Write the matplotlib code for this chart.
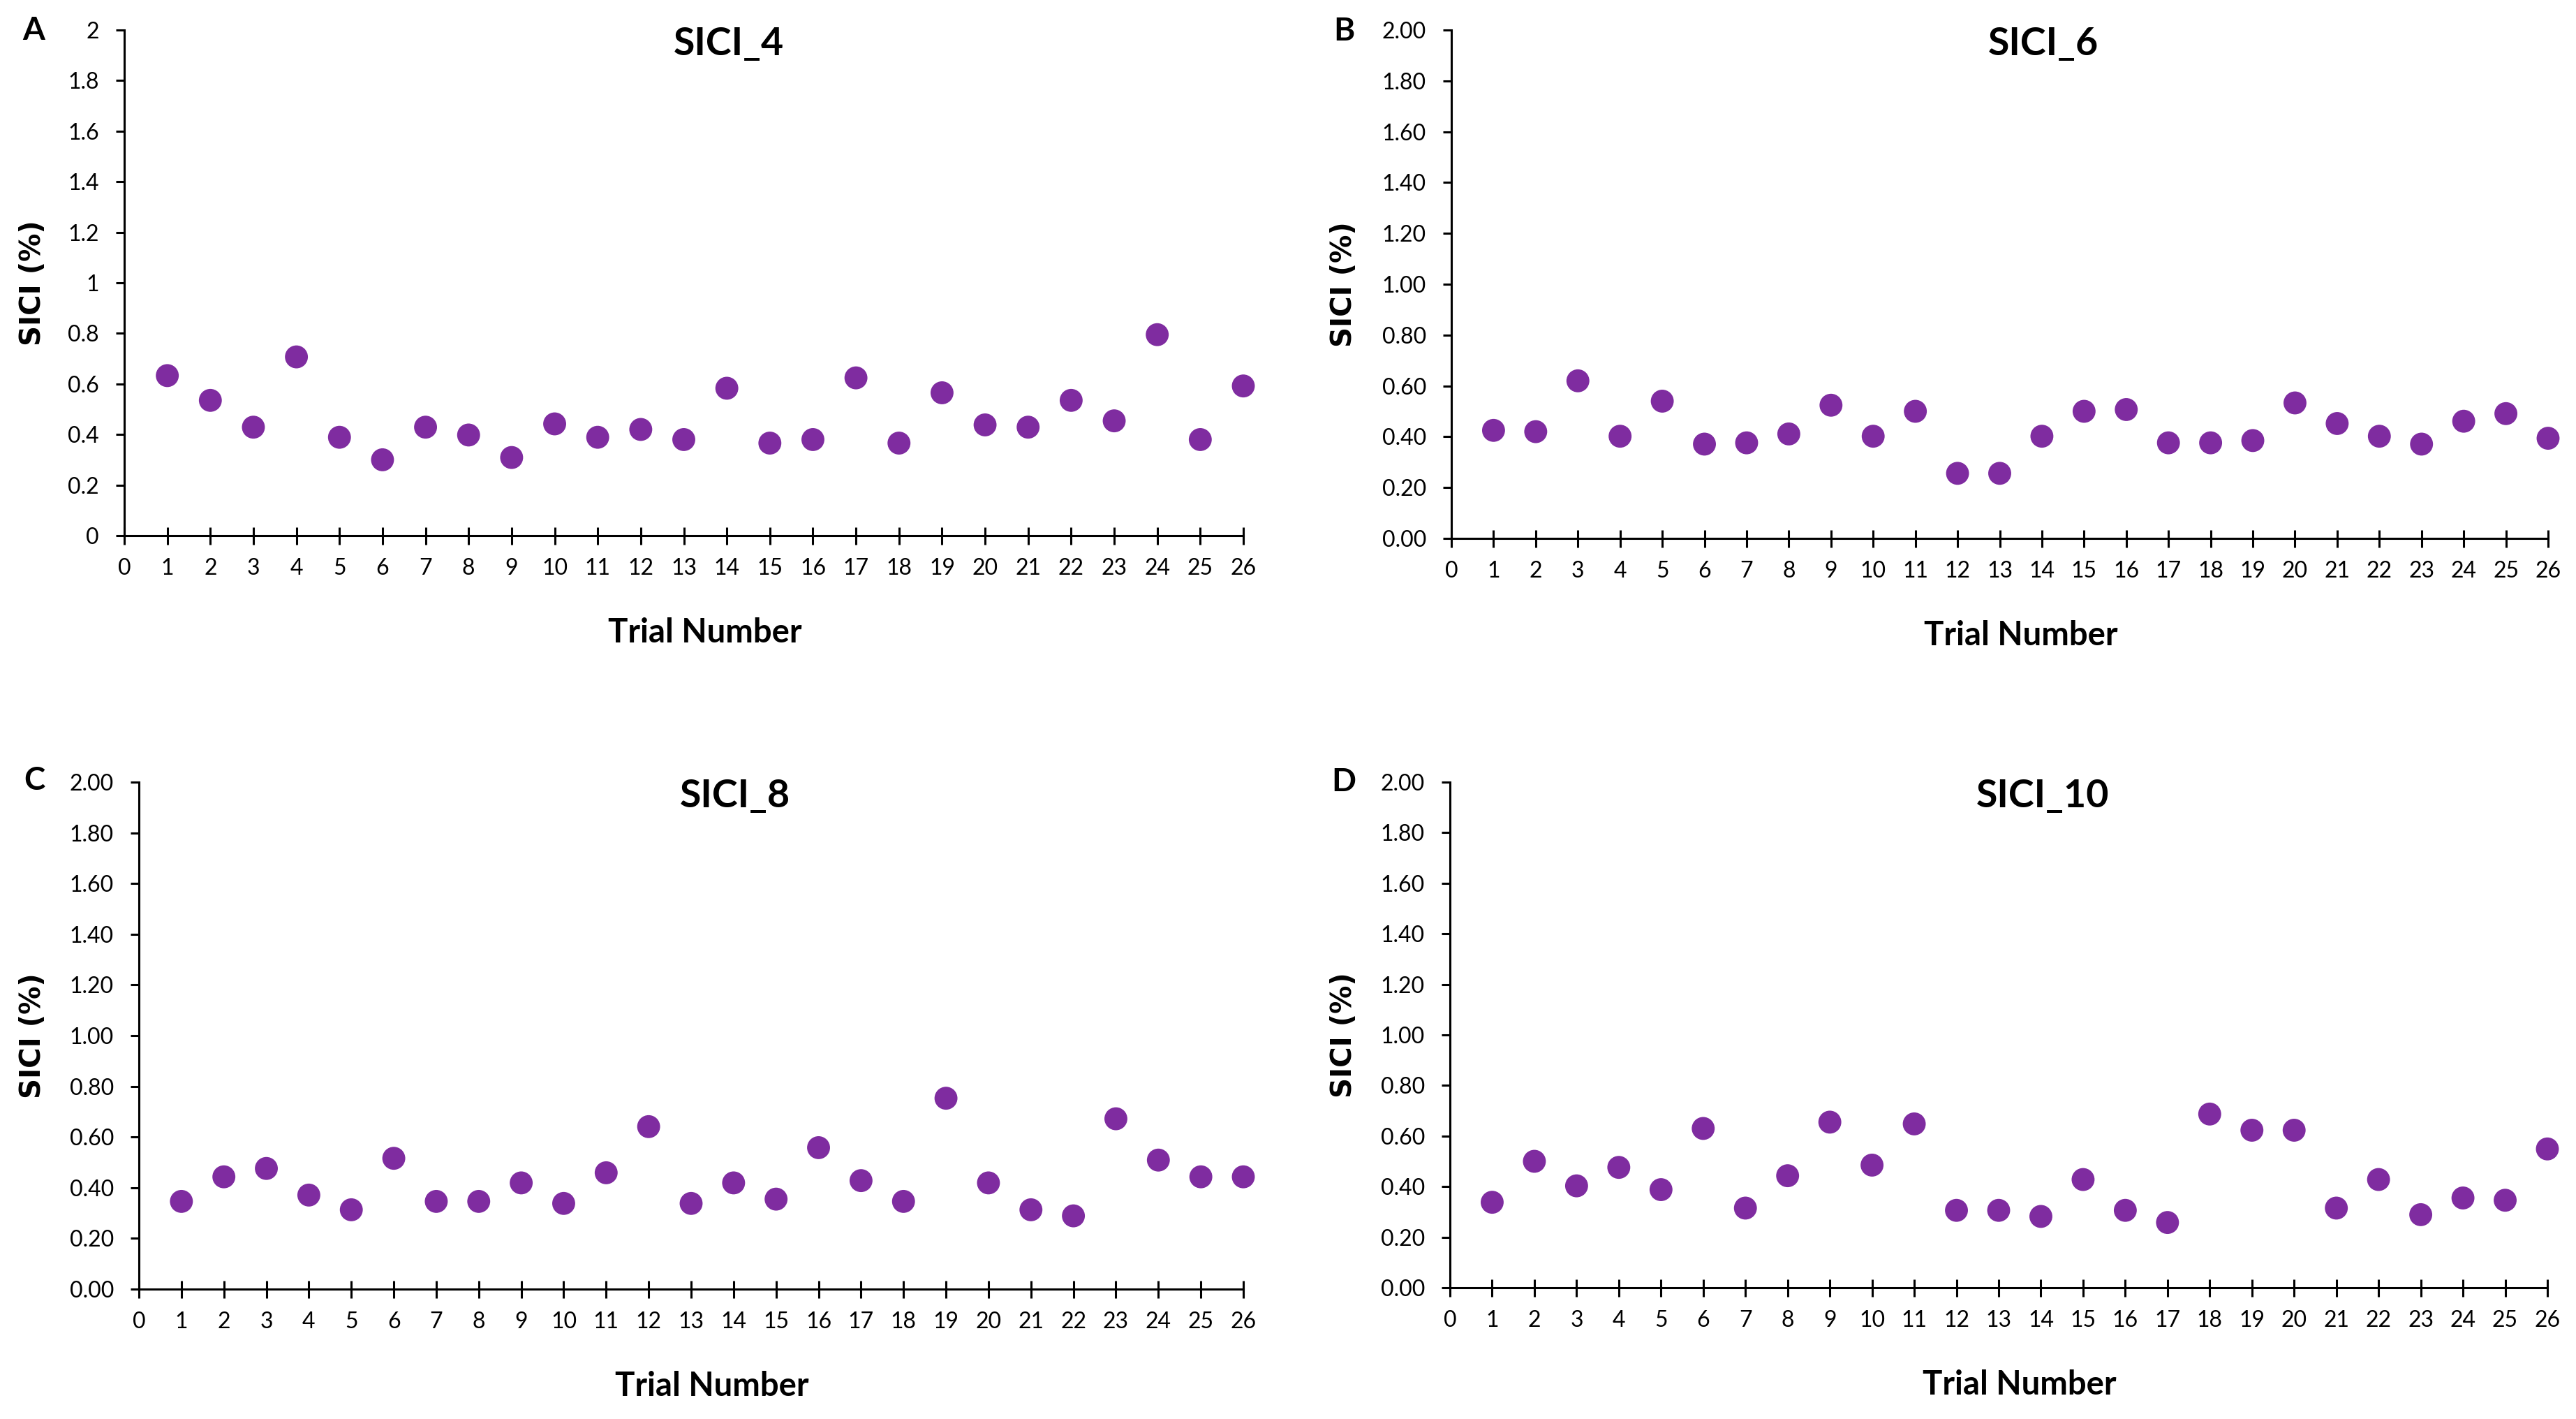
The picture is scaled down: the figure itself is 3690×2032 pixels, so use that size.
import numpy as np
import matplotlib.pyplot as plt
from matplotlib.ticker import FormatStrFormatter

W, H = 3690, 2032  # output size in px

trials = list(range(1, 27))

sici_4 = [0.633, 0.535, 0.429, 0.707, 0.389, 0.300, 0.429, 0.398, 0.309, 0.442,
          0.389, 0.420, 0.380, 0.583, 0.366, 0.380, 0.624, 0.366, 0.565, 0.438,
          0.429, 0.535, 0.454, 0.795, 0.380, 0.592]
sici_6 = [0.425, 0.420, 0.620, 0.402, 0.540, 0.371, 0.376, 0.411, 0.524, 0.402,
          0.500, 0.256, 0.256, 0.402, 0.500, 0.507, 0.376, 0.376, 0.385, 0.533,
          0.452, 0.402, 0.371, 0.461, 0.491, 0.394]
sici_8 = [0.346, 0.443, 0.476, 0.371, 0.313, 0.516, 0.346, 0.346, 0.419, 0.338,
          0.459, 0.641, 0.338, 0.419, 0.355, 0.558, 0.428, 0.346, 0.753, 0.419,
          0.313, 0.289, 0.672, 0.509, 0.443, 0.443]
sici_10 = [0.338, 0.500, 0.403, 0.476, 0.388, 0.630, 0.315, 0.443, 0.655, 0.485,
           0.648, 0.306, 0.306, 0.282, 0.428, 0.306, 0.258, 0.687, 0.623, 0.623,
           0.315, 0.428, 0.289, 0.355, 0.346, 0.549]

panel_letters = ['A', 'B', 'C', 'D']
panel_titles = ['SICI_4', 'SICI_6', 'SICI_8', 'SICI_10']
panel_data = [sici_4, sici_6, sici_8, sici_10]
y_formats = ['%g', '%.2f', '%.2f', '%.2f']

# axes boxes in pixels: left, top, right, bottom
boxes = [(178, 43, 1781, 767), (2079, 43, 3650, 771),
         (199, 1120, 1781, 1846), (2077, 1120, 3649, 1844)]
letter_xy = [(48, 44), (1925, 45), (49, 1118), (1925, 1120)]
ylab_x = [47, 1925, 47, 1925]

FONT = 'Lato'
PURPLE = '#7F2CA0'

fig = plt.figure(figsize=(W / 100, H / 100), dpi=100)

def fx(px):
    return px / W

def fy(py):
    return 1 - py / H

for i in range(4):
    l, t, r, b = boxes[i]
    ax = fig.add_axes([fx(l), fy(b), (r - l) / W, (b - t) / H])
    ax.scatter(trials, panel_data[i], s=560, color=PURPLE, edgecolors='none',
               clip_on=False, zorder=3)
    ax.set_xlim(0, 26)
    ax.set_ylim(0, 2)
    ax.set_xticks(range(0, 27))
    ax.set_yticks(np.arange(0, 2.01, 0.2))
    ax.yaxis.set_major_formatter(FormatStrFormatter(y_formats[i]))
    for s in ['top', 'right']:
        ax.spines[s].set_visible(False)
    for s in ['left', 'bottom']:
        ax.spines[s].set_linewidth(2.2)
    ax.tick_params(axis='y', direction='out', length=9, width=2.2, pad=17,
                   labelsize=23)
    ax.tick_params(axis='x', direction='inout', length=18, width=2.2, pad=14,
                   labelsize=23)
    for lab in ax.get_xticklabels() + ax.get_yticklabels():
        lab.set_fontfamily(FONT)

    ax.text(0.54, 0.972, panel_titles[i], transform=ax.transAxes, ha='center',
            va='center', fontsize=40, fontweight='bold', family=FONT)

    lx, ly = letter_xy[i]
    fig.text(fx(lx), fy(ly), panel_letters[i], ha='center', va='center',
             fontsize=33, fontweight='bold', family=FONT)

    fig.text(fx(ylab_x[i]), fy((t + b) / 2), 'SICI (%)', rotation=90,
             ha='center', va='center', fontsize=29, fontweight='bold',
             family='DejaVu Sans')
    fig.text(fx((l + r) / 2 + 30), fy(b + 139), 'Trial Number', ha='center',
             va='center', fontsize=34, fontweight='bold', family=FONT)

fig.savefig('out.png', dpi=100, facecolor='white')
